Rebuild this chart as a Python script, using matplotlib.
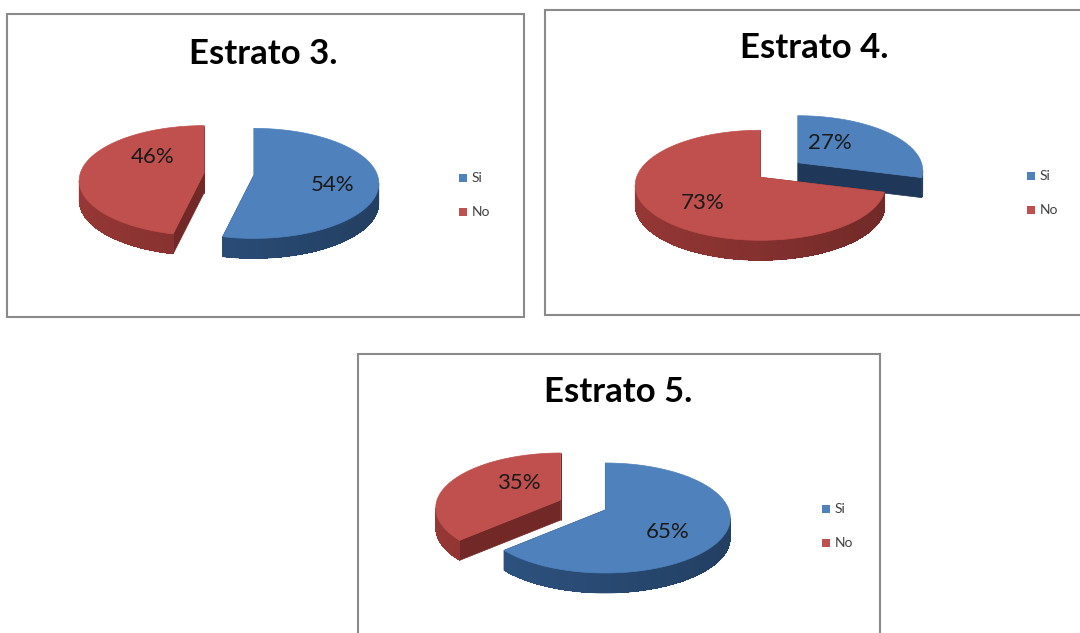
import numpy as np
import matplotlib.pyplot as plt
from matplotlib.patches import Polygon, Rectangle
from matplotlib.collections import PolyCollection
import matplotlib.colors as mcolors

# Survey answers per stratum (percent)
titles = ['Estrato 3.', 'Estrato 4.', 'Estrato 5.']
categories = ['Si', 'No']
si_pct = [54, 27, 65]
no_pct = [46, 73, 35]

top_colors = ['#4F81BD', '#C0504D']
side_colors = ['#2E5381', '#953735']
cut_colors = ['#1F3859', '#722826']

# layout in pixels, y measured from the top edge
panels = [(7, 14, 517, 303), (545, 10, 540, 305), (358, 354, 522, 290)]
title_xy = [(263, 54), (814, 48), (618, 392)]
pie_xy = [(229, 182), (779, 178), (583, 513)]
legend_xy = [(463, 178), (1031, 176), (826, 509)]
label_nudge = [[(11, 6), (17, -12)], [(-19, 0), (-6, 6)], [(1, 8), (19, -3)]]

RX, RY, LIFT, DEPTH, EXPLODE = 125, 55, 8, 20, 25
FONT = ['Lato', 'DejaVu Sans']

fig = plt.figure(figsize=(10.8, 6.33), dpi=100)
ax = fig.add_axes([0, 0, 1, 1])
ax.set_xlim(0, 1080)
ax.set_ylim(633, 0)
ax.axis('off')


def rim(cx, cy, theta):
    t = np.radians(theta)
    return cx + RX * np.sin(t), cy - RY * np.cos(t)


def shade(color, theta):
    # walls get darker towards the right-hand side
    f = 0.76 + 0.24 * (1 - np.sin(np.radians(theta))) / 2
    r, g, b = mcolors.to_rgb(color)
    return (r * f, g * f, b * f)


def draw_pie(values, base, nudges):
    bounds = np.concatenate([[0], np.cumsum(values)]) / sum(values) * 360
    slices = []
    for i in range(len(values)):
        a0, a1 = bounds[i], bounds[i + 1]
        m = (a0 + a1) / 2
        cx = base[0] + EXPLODE * np.sin(np.radians(m))
        cy = base[1] - EXPLODE * np.cos(np.radians(m)) * RY / RX
        slices.append((a0, a1, m, cx, cy))

    # radial cut faces
    for i, (a0, a1, m, cx, cy) in enumerate(slices):
        for a in (a0, a1):
            px, py = rim(cx, cy, a)
            quad = [(cx, cy - LIFT), (px, py), (px, py + DEPTH), (cx, cy - LIFT + DEPTH)]
            ax.add_patch(Polygon(quad, closed=True, fc=cut_colors[i], ec=cut_colors[i], lw=0.5))

    # outer walls on the front half: one smooth outline, then shaded strips
    for i, (a0, a1, m, cx, cy) in enumerate(slices):
        lo, hi = max(a0, 90), min(a1, 270)
        if hi <= lo:
            continue
        th = np.linspace(lo, hi, int((hi - lo) / 2) + 2)
        xs, ys = rim(cx, cy, th)
        outline = list(zip(xs, ys)) + list(zip(xs[::-1], ys[::-1] + DEPTH))
        c_mid = shade(side_colors[i], (lo + hi) / 2)
        ax.add_patch(Polygon(outline, closed=True, fc=c_mid, ec=c_mid, lw=0.5))
        strips, colors = [], []
        for j in range(len(th) - 1):
            strips.append([(xs[j], ys[j]), (xs[j + 1], ys[j + 1]),
                           (xs[j + 1], ys[j + 1] + DEPTH), (xs[j], ys[j] + DEPTH)])
            colors.append(shade(side_colors[i], (th[j] + th[j + 1]) / 2))
        ax.add_collection(PolyCollection(strips, facecolors=colors, edgecolors='none',
                                         antialiaseds=False))

    # top faces and percentage labels
    for i, (a0, a1, m, cx, cy) in enumerate(slices):
        th = np.linspace(a0, a1, 200)
        xs, ys = rim(cx, cy, th)
        pts = [(cx, cy - LIFT)] + list(zip(xs, ys))
        ax.add_patch(Polygon(pts, closed=True, fc=top_colors[i], ec=top_colors[i], lw=0.5))
        rx_, ry_ = rim(0, 0, m)
        lx = cx + 0.55 * rx_ + nudges[i][0]
        ly = cy - LIFT + 0.55 * ry_ + nudges[i][1]
        ax.text(lx, ly, f'{values[i]}%', ha='center', va='center', fontsize=16,
                color='#1a1a1a', family=FONT)


for k in range(len(titles)):
    x, y, w, h = panels[k]
    ax.add_patch(Rectangle((x, y), w, h, fc='white', ec='#8a8a8a', lw=1.5, zorder=0))
    ax.text(*title_xy[k], titles[k], ha='center', va='center', fontsize=25,
            fontweight='bold', color='black', family=FONT)
    draw_pie([si_pct[k], no_pct[k]], pie_xy[k], label_nudge[k])
    lx, ly = legend_xy[k]
    for j, cat in enumerate(categories):
        ax.add_patch(Rectangle((lx - 4, ly - 4 + 34 * j), 8, 8, fc=top_colors[j], ec='none'))
        ax.text(lx + 9, ly + 34 * j, cat, ha='left', va='center', fontsize=10,
                color='#404040', family=FONT)

fig.savefig('out.png', dpi=100, facecolor='white')
